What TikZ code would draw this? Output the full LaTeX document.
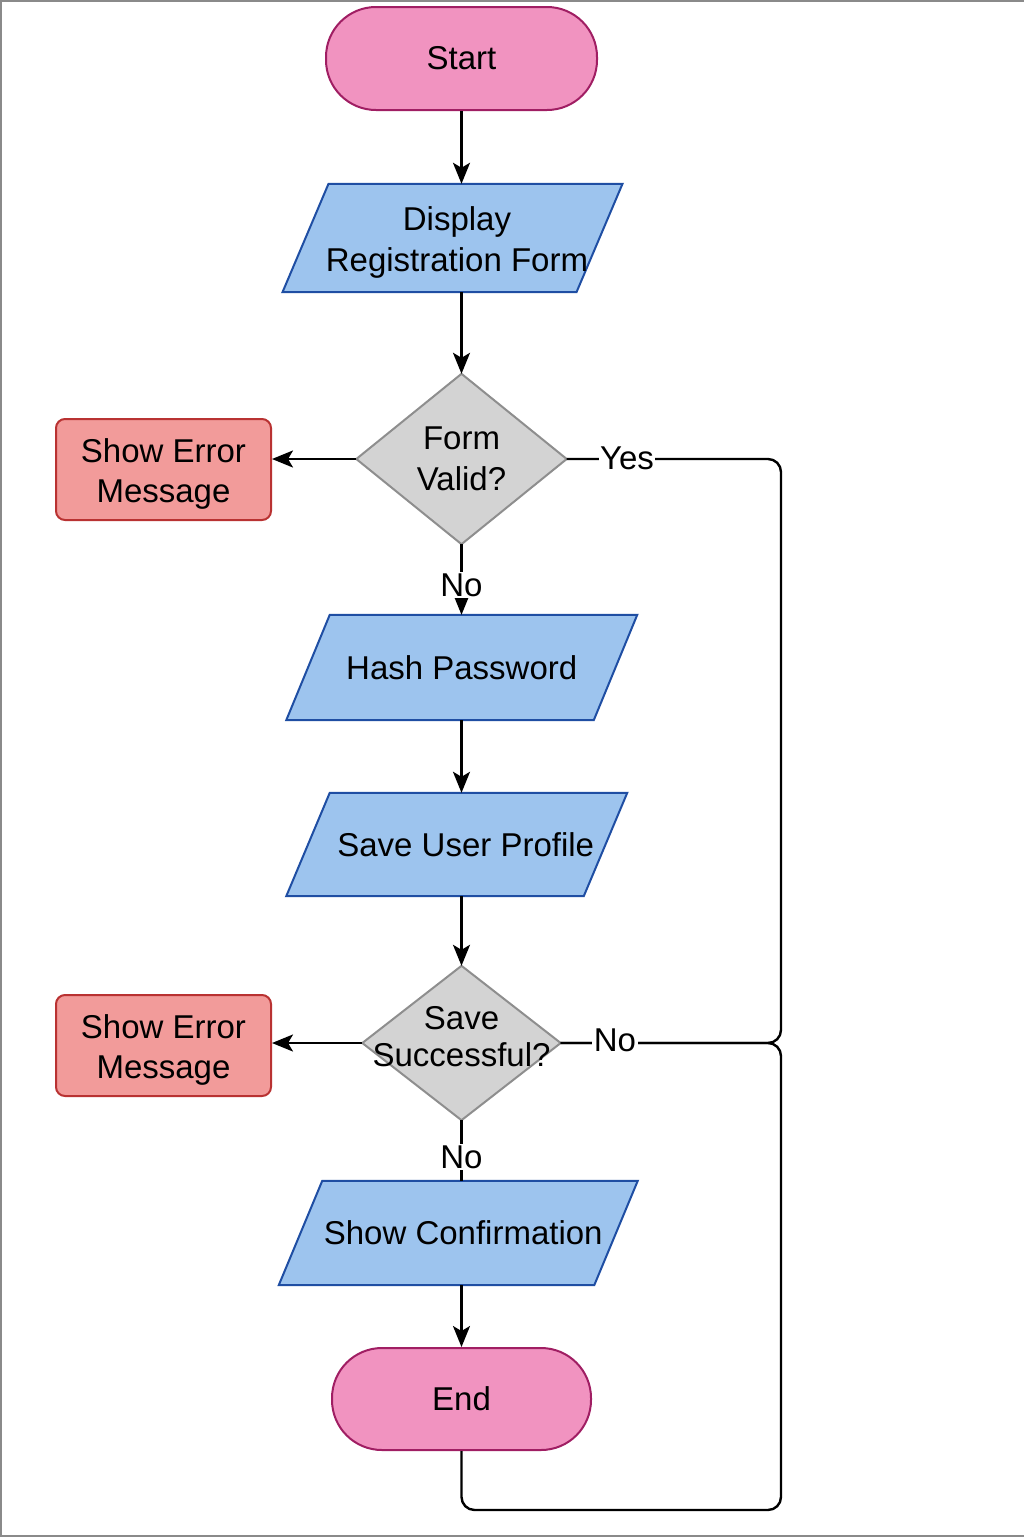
\documentclass[tikz,border=0pt]{standalone}
\usepackage{fontspec}
\setmainfont{Liberation Sans}
\usetikzlibrary{arrows.meta,backgrounds,calc}
\definecolor{pinkF}{HTML}{F193C0}
\definecolor{pinkD}{HTML}{A01E63}
\definecolor{blueF}{HTML}{9DC4EE}
\definecolor{blueD}{HTML}{1F4EA3}
\definecolor{grayF}{HTML}{D3D3D3}
\definecolor{grayD}{HTML}{8E8E8E}
\definecolor{redF}{HTML}{F29B9A}
\definecolor{redD}{HTML}{B93232}
\definecolor{frameC}{HTML}{8A8A8A}
\newcommand\paragram[3]{%
  \draw[parastyle] ($(#1.north)+(-#2+#3,0)$) -- ($(#1.north)+(#2+#3,0)$) -- ($(#1.south)+(#2-#3,0)$) -- ($(#1.south)+(-#2-#3,0)$) -- cycle;}
\newcommand\diamondshape[1]{%
  \draw[diastyle] (#1.north) -- (#1.east) -- (#1.south) -- (#1.west) -- cycle;}
\newcommand\upstrut{\rule{0pt}{33pt}}
\begin{document}
\begin{tikzpicture}[x=1pt,y=-1pt,
  every node/.style={font=\fontsize{33}{41}\selectfont, align=center, inner sep=0pt},
  term/.style={draw=pinkD, fill=pinkF, line width=2pt, rounded corners=50pt},
  errbox/.style={draw=redD, fill=redF, line width=2pt, rounded corners=9pt, minimum width=215pt, minimum height=101pt, font=\fontsize{33}{40}\selectfont},
  parastyle/.style={draw=blueD, fill=blueF, line width=2pt},
  diastyle/.style={draw=grayD, fill=grayF, line width=2pt},
  arr/.style={line width=2.4pt, -{Stealth[length=21pt,width=17pt,inset=5pt]}},
  ln/.style={line width=2.4pt},
  lbl/.style={fill=white, inner sep=1.5pt}]
\useasboundingbox (0,0) rectangle (1024,1537);
\draw[frameC, line width=2pt] (1024,1) -- (1,1) -- (1,1535.5) -- (1024,1535.5);

\node[term, minimum width=271pt, minimum height=103pt] (start) at (461.5,58.5) {Start};
\node[minimum width=294pt, minimum height=108pt] (disp) at (452.5,238) {\upstrut\kern9pt Display\\\kern9pt Registration Form};
\node[minimum width=210pt, minimum height=170pt] (fv) at (461.5,459) {Form\\Valid?};
\node[errbox] (err1) at (163.5,469.5) {\upstrut Show Error\\Message};
\node[minimum width=307.5pt, minimum height=105pt] (hash) at (461.75,667.5) {Hash Password};
\node[minimum width=297.5pt, minimum height=103pt] (save) at (456.75,844.5) {\kern18pt Save User Profile};
\node[minimum width=198pt, minimum height=154pt, font=\fontsize{33}{37}\selectfont] (ss) at (461.5,1043) {Save\\Successful?\rule[-13pt]{0pt}{13pt}};
\node[errbox] (err2) at (163.5,1045.5) {\upstrut Show Error\\Message};
\node[minimum width=315.5pt, minimum height=104pt] (conf) at (458.25,1233) {\kern10pt Show Confirmation};
\node[term, minimum width=259pt, minimum height=102pt] (end) at (461.5,1399) {End};

\begin{scope}[on background layer]
\paragram{disp}{147}{23}
\paragram{hash}{153.75}{21.75}
\paragram{save}{148.75}{21.75}
\paragram{conf}{157.75}{21.75}
\diamondshape{fv}
\diamondshape{ss}
\end{scope}

\coordinate (r1) at (781,459);
\coordinate (r2) at (781,1043);
\coordinate (bl) at (461.5,1510);
\coordinate (br) at (781,1510);

\draw[arr] (start.south) -- (start.south |- disp.north);
\draw[arr] (start.south |- disp.south) -- (fv.north);
\draw[arr] (fv.west) -- (fv.west -| err1.east);
\draw[arr] (fv.south) -- (fv.south |- hash.north);
\draw[arr] (fv.south |- hash.south) -- (fv.south |- save.north);
\draw[arr] (fv.south |- save.south) -- (ss.north);
\draw[arr] (ss.west) -- (ss.west -| err2.east);
\draw[ln] (ss.south) -- (ss.south |- conf.north);
\draw[arr] (ss.south |- conf.south) -- (end.north);
\draw[ln, rounded corners=13pt] (fv.east) -- (r1) -- (r2) -- (ss.east);
\draw[ln, rounded corners=13pt] (end.south) -- (bl) -- (br) -- (r2) -- (ss.east);

\node[lbl] (yes) at (627,458) {Yes};
\node[lbl] (no1) at (461.5,585) {No};
\node[lbl] (no2) at (615,1040) {No};
\node[lbl] (no3) at (461.5,1157) {No};
\end{tikzpicture}
\end{document}
